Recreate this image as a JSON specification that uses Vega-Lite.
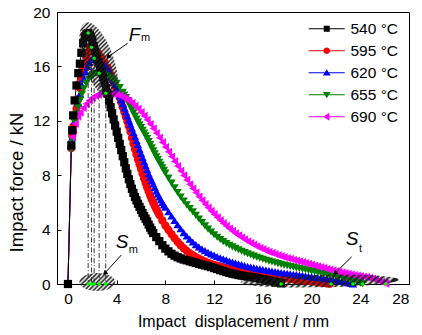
{
"$schema":"https://vega.github.io/schema/vega-lite/v6.json",
"width":352,"height":272,"autosize":"none",
"padding":{"left":57,"top":12,"right":13,"bottom":51},
"background":"white",
"config":{
 "font":"Liberation Sans",
 "view":{"stroke":"#000","strokeWidth":1},
 "axis":{"labelFont":"Liberation Sans","labelFontSize":15.5,"labelColor":"#000","titleFont":"Liberation Sans","titleFontSize":16,"titleFontWeight":"normal","titleColor":"#000","tickColor":"#000","domainColor":"#000","grid":false,"tickSize":-4,"labelPadding":11}
},
"datasets":{
"curves":[
{"t":595,"x":0,"y":0},{"t":595,"x":0.27,"y":10.0},{"t":595,"x":0.35,"y":10.9},{"t":595,"x":0.45,"y":11.6},{"t":595,"x":0.57,"y":12.2},{"t":595,"x":0.7,"y":12.9},{"t":595,"x":0.85,"y":13.6},{"t":595,"x":1.0,"y":14.4},{"t":595,"x":1.12,"y":15.1},{"t":595,"x":1.25,"y":15.7},{"t":595,"x":1.38,"y":16.2},{"t":595,"x":1.52,"y":16.7},{"t":595,"x":1.65,"y":17.05},{"t":595,"x":1.8,"y":17.3},{"t":595,"x":1.93,"y":17.4},{"t":595,"x":2.1,"y":17.35},{"t":595,"x":2.25,"y":17.2},{"t":595,"x":2.5,"y":16.95},{"t":595,"x":2.75,"y":16.65},{"t":595,"x":3.0,"y":16.3},{"t":595,"x":3.25,"y":15.9},{"t":595,"x":3.375,"y":15.65},{"t":595,"x":3.5,"y":15.4},{"t":595,"x":3.625,"y":15.12},{"t":595,"x":3.75,"y":14.85},{"t":595,"x":3.875,"y":14.58},{"t":595,"x":4.0,"y":14.3},{"t":595,"x":4.125,"y":14.0},{"t":595,"x":4.25,"y":13.7},{"t":595,"x":4.375,"y":13.35},{"t":595,"x":4.5,"y":13.0},{"t":595,"x":4.625,"y":12.65},{"t":595,"x":4.75,"y":12.3},{"t":595,"x":4.875,"y":11.95},{"t":595,"x":5.0,"y":11.6},{"t":595,"x":5.125,"y":11.2},{"t":595,"x":5.25,"y":10.75},{"t":595,"x":5.375,"y":10.33},{"t":595,"x":5.5,"y":9.9},{"t":595,"x":5.625,"y":9.52},{"t":595,"x":5.75,"y":9.15},{"t":595,"x":5.875,"y":8.8},{"t":595,"x":6.0,"y":8.45},{"t":595,"x":6.125,"y":8.1},{"t":595,"x":6.25,"y":7.75},{"t":595,"x":6.375,"y":7.42},{"t":595,"x":6.5,"y":7.1},{"t":595,"x":6.625,"y":6.8},{"t":595,"x":6.75,"y":6.5},{"t":595,"x":6.875,"y":6.23},{"t":595,"x":7.0,"y":5.97},{"t":595,"x":7.125,"y":5.73},{"t":595,"x":7.25,"y":5.5},{"t":595,"x":7.375,"y":5.28},{"t":595,"x":7.5,"y":5.07},{"t":595,"x":7.75,"y":4.67},{"t":595,"x":8.0,"y":4.3},{"t":595,"x":8.25,"y":3.98},{"t":595,"x":8.5,"y":3.67},{"t":595,"x":8.75,"y":3.37},{"t":595,"x":9.0,"y":3.1},{"t":595,"x":9.25,"y":2.85},{"t":595,"x":9.5,"y":2.63},{"t":595,"x":9.75,"y":2.44},{"t":595,"x":10.0,"y":2.27},{"t":595,"x":10.25,"y":2.12},{"t":595,"x":10.5,"y":1.98},{"t":595,"x":10.75,"y":1.86},{"t":595,"x":11.0,"y":1.75},{"t":595,"x":11.25,"y":1.65},{"t":595,"x":11.5,"y":1.56},{"t":595,"x":11.75,"y":1.48},{"t":595,"x":12.0,"y":1.41},{"t":595,"x":12.25,"y":1.34},{"t":595,"x":12.5,"y":1.28},{"t":595,"x":12.75,"y":1.22},{"t":595,"x":13.0,"y":1.17},{"t":595,"x":13.25,"y":1.12},{"t":595,"x":13.5,"y":1.07},{"t":595,"x":13.75,"y":1.03},{"t":595,"x":14.0,"y":0.99},{"t":595,"x":14.25,"y":0.95},{"t":595,"x":14.5,"y":0.91},{"t":595,"x":14.75,"y":0.88},{"t":595,"x":15.0,"y":0.84},{"t":595,"x":15.25,"y":0.81},{"t":595,"x":15.5,"y":0.78},{"t":595,"x":15.75,"y":0.75},{"t":595,"x":16.0,"y":0.72},{"t":595,"x":16.25,"y":0.68},{"t":595,"x":16.5,"y":0.64},{"t":595,"x":16.75,"y":0.6},{"t":595,"x":17.0,"y":0.56},{"t":595,"x":17.25,"y":0.52},{"t":595,"x":17.5,"y":0.48},{"t":595,"x":17.75,"y":0.44},{"t":595,"x":18.0,"y":0.41},{"t":595,"x":18.25,"y":0.38},{"t":595,"x":18.5,"y":0.35},{"t":595,"x":18.75,"y":0.32},{"t":595,"x":19.0,"y":0.29},{"t":595,"x":19.25,"y":0.27},{"t":595,"x":19.5,"y":0.25},{"t":595,"x":19.75,"y":0.23},{"t":595,"x":20.0,"y":0.2},{"t":595,"x":20.25,"y":0.17},{"t":595,"x":20.5,"y":0.14},{"t":595,"x":20.75,"y":0.11},{"t":595,"x":21.0,"y":0.08},{"t":595,"x":21.25,"y":0.05},{"t":595,"x":21.5,"y":0.02},
{"t":620,"x":0,"y":0},{"t":620,"x":0.27,"y":10.1},{"t":620,"x":0.35,"y":10.8},{"t":620,"x":0.45,"y":11.4},{"t":620,"x":0.57,"y":12.0},{"t":620,"x":0.7,"y":12.6},{"t":620,"x":0.85,"y":13.3},{"t":620,"x":1.0,"y":14.0},{"t":620,"x":1.15,"y":14.6},{"t":620,"x":1.3,"y":15.1},{"t":620,"x":1.45,"y":15.6},{"t":620,"x":1.6,"y":16.0},{"t":620,"x":1.75,"y":16.3},{"t":620,"x":1.9,"y":16.5},{"t":620,"x":2.05,"y":16.58},{"t":620,"x":2.15,"y":16.6},{"t":620,"x":2.25,"y":16.57},{"t":620,"x":2.5,"y":16.45},{"t":620,"x":2.75,"y":16.3},{"t":620,"x":3.0,"y":16.1},{"t":620,"x":3.25,"y":15.85},{"t":620,"x":3.375,"y":15.67},{"t":620,"x":3.5,"y":15.45},{"t":620,"x":3.625,"y":15.2},{"t":620,"x":3.75,"y":14.95},{"t":620,"x":3.875,"y":14.68},{"t":620,"x":4.0,"y":14.4},{"t":620,"x":4.125,"y":14.12},{"t":620,"x":4.25,"y":13.85},{"t":620,"x":4.375,"y":13.55},{"t":620,"x":4.5,"y":13.25},{"t":620,"x":4.625,"y":12.95},{"t":620,"x":4.75,"y":12.65},{"t":620,"x":4.875,"y":12.35},{"t":620,"x":5.0,"y":12.05},{"t":620,"x":5.125,"y":11.75},{"t":620,"x":5.25,"y":11.45},{"t":620,"x":5.375,"y":11.15},{"t":620,"x":5.5,"y":10.85},{"t":620,"x":5.625,"y":10.55},{"t":620,"x":5.75,"y":10.25},{"t":620,"x":5.875,"y":9.92},{"t":620,"x":6.0,"y":9.6},{"t":620,"x":6.125,"y":9.3},{"t":620,"x":6.25,"y":9.0},{"t":620,"x":6.375,"y":8.7},{"t":620,"x":6.5,"y":8.4},{"t":620,"x":6.625,"y":8.12},{"t":620,"x":6.75,"y":7.85},{"t":620,"x":6.875,"y":7.6},{"t":620,"x":7.0,"y":7.35},{"t":620,"x":7.125,"y":7.1},{"t":620,"x":7.25,"y":6.85},{"t":620,"x":7.375,"y":6.62},{"t":620,"x":7.5,"y":6.4},{"t":620,"x":7.625,"y":6.2},{"t":620,"x":7.75,"y":6.0},{"t":620,"x":7.875,"y":5.82},{"t":620,"x":8.0,"y":5.65},{"t":620,"x":8.25,"y":5.32},{"t":620,"x":8.5,"y":5.0},{"t":620,"x":8.75,"y":4.67},{"t":620,"x":9.0,"y":4.36},{"t":620,"x":9.25,"y":4.06},{"t":620,"x":9.5,"y":3.78},{"t":620,"x":9.75,"y":3.53},{"t":620,"x":10.0,"y":3.3},{"t":620,"x":10.25,"y":3.09},{"t":620,"x":10.5,"y":2.9},{"t":620,"x":10.75,"y":2.73},{"t":620,"x":11.0,"y":2.58},{"t":620,"x":11.25,"y":2.45},{"t":620,"x":11.5,"y":2.33},{"t":620,"x":11.75,"y":2.22},{"t":620,"x":12.0,"y":2.12},{"t":620,"x":12.25,"y":2.02},{"t":620,"x":12.5,"y":1.93},{"t":620,"x":12.75,"y":1.85},{"t":620,"x":13.0,"y":1.77},{"t":620,"x":13.25,"y":1.69},{"t":620,"x":13.5,"y":1.62},{"t":620,"x":13.75,"y":1.55},{"t":620,"x":14.0,"y":1.48},{"t":620,"x":14.25,"y":1.42},{"t":620,"x":14.5,"y":1.36},{"t":620,"x":14.75,"y":1.3},{"t":620,"x":15.0,"y":1.25},{"t":620,"x":15.25,"y":1.2},{"t":620,"x":15.5,"y":1.15},{"t":620,"x":15.75,"y":1.11},{"t":620,"x":16.0,"y":1.07},{"t":620,"x":16.25,"y":1.03},{"t":620,"x":16.5,"y":0.99},{"t":620,"x":16.75,"y":0.95},{"t":620,"x":17.0,"y":0.91},{"t":620,"x":17.25,"y":0.87},{"t":620,"x":17.5,"y":0.84},{"t":620,"x":17.75,"y":0.81},{"t":620,"x":18.0,"y":0.78},{"t":620,"x":18.25,"y":0.75},{"t":620,"x":18.5,"y":0.72},{"t":620,"x":18.75,"y":0.69},{"t":620,"x":19.0,"y":0.66},{"t":620,"x":19.25,"y":0.63},{"t":620,"x":19.5,"y":0.6},{"t":620,"x":19.75,"y":0.57},{"t":620,"x":20.0,"y":0.54},{"t":620,"x":20.25,"y":0.51},{"t":620,"x":20.5,"y":0.48},{"t":620,"x":20.75,"y":0.45},{"t":620,"x":21.0,"y":0.42},{"t":620,"x":21.25,"y":0.39},{"t":620,"x":21.5,"y":0.36},{"t":620,"x":21.75,"y":0.33},{"t":620,"x":22.0,"y":0.29},{"t":620,"x":22.25,"y":0.25},{"t":620,"x":22.5,"y":0.2},{"t":620,"x":22.75,"y":0.15},{"t":620,"x":23.0,"y":0.1},{"t":620,"x":23.25,"y":0.05},{"t":620,"x":23.4,"y":0.01},
{"t":655,"x":0,"y":0},{"t":655,"x":0.27,"y":9.9},{"t":655,"x":0.35,"y":10.6},{"t":655,"x":0.43,"y":11.3},{"t":655,"x":0.55,"y":11.9},{"t":655,"x":0.7,"y":12.5},{"t":655,"x":0.84,"y":13.0},{"t":655,"x":1.0,"y":13.5},{"t":655,"x":1.15,"y":13.95},{"t":655,"x":1.3,"y":14.35},{"t":655,"x":1.5,"y":14.75},{"t":655,"x":1.7,"y":15.05},{"t":655,"x":1.9,"y":15.25},{"t":655,"x":2.1,"y":15.4},{"t":655,"x":2.3,"y":15.48},{"t":655,"x":2.56,"y":15.5},{"t":655,"x":2.75,"y":15.48},{"t":655,"x":3.0,"y":15.42},{"t":655,"x":3.25,"y":15.32},{"t":655,"x":3.5,"y":15.18},{"t":655,"x":3.75,"y":15.0},{"t":655,"x":4.0,"y":14.75},{"t":655,"x":4.25,"y":14.45},{"t":655,"x":4.5,"y":14.1},{"t":655,"x":4.625,"y":13.9},{"t":655,"x":4.75,"y":13.7},{"t":655,"x":4.875,"y":13.48},{"t":655,"x":5.0,"y":13.25},{"t":655,"x":5.125,"y":13.03},{"t":655,"x":5.25,"y":12.8},{"t":655,"x":5.375,"y":12.58},{"t":655,"x":5.5,"y":12.35},{"t":655,"x":5.625,"y":12.12},{"t":655,"x":5.75,"y":11.9},{"t":655,"x":5.875,"y":11.7},{"t":655,"x":6.0,"y":11.5},{"t":655,"x":6.125,"y":11.3},{"t":655,"x":6.25,"y":11.1},{"t":655,"x":6.375,"y":10.9},{"t":655,"x":6.5,"y":10.7},{"t":655,"x":6.625,"y":10.48},{"t":655,"x":6.75,"y":10.25},{"t":655,"x":6.875,"y":10.02},{"t":655,"x":7.0,"y":9.8},{"t":655,"x":7.125,"y":9.57},{"t":655,"x":7.25,"y":9.35},{"t":655,"x":7.375,"y":9.15},{"t":655,"x":7.5,"y":8.95},{"t":655,"x":7.625,"y":8.75},{"t":655,"x":7.75,"y":8.55},{"t":655,"x":7.875,"y":8.35},{"t":655,"x":8.0,"y":8.15},{"t":655,"x":8.25,"y":7.78},{"t":655,"x":8.5,"y":7.42},{"t":655,"x":8.75,"y":7.07},{"t":655,"x":9.0,"y":6.73},{"t":655,"x":9.25,"y":6.4},{"t":655,"x":9.5,"y":6.1},{"t":655,"x":9.75,"y":5.82},{"t":655,"x":10.0,"y":5.55},{"t":655,"x":10.25,"y":5.3},{"t":655,"x":10.5,"y":5.05},{"t":655,"x":10.75,"y":4.78},{"t":655,"x":11.0,"y":4.52},{"t":655,"x":11.25,"y":4.27},{"t":655,"x":11.5,"y":4.03},{"t":655,"x":11.75,"y":3.82},{"t":655,"x":12.0,"y":3.62},{"t":655,"x":12.25,"y":3.44},{"t":655,"x":12.5,"y":3.27},{"t":655,"x":12.75,"y":3.12},{"t":655,"x":13.0,"y":2.98},{"t":655,"x":13.25,"y":2.85},{"t":655,"x":13.5,"y":2.73},{"t":655,"x":13.75,"y":2.62},{"t":655,"x":14.0,"y":2.51},{"t":655,"x":14.25,"y":2.41},{"t":655,"x":14.5,"y":2.31},{"t":655,"x":14.75,"y":2.22},{"t":655,"x":15.0,"y":2.13},{"t":655,"x":15.25,"y":2.05},{"t":655,"x":15.5,"y":1.97},{"t":655,"x":15.75,"y":1.89},{"t":655,"x":16.0,"y":1.82},{"t":655,"x":16.25,"y":1.75},{"t":655,"x":16.5,"y":1.68},{"t":655,"x":16.75,"y":1.62},{"t":655,"x":17.0,"y":1.56},{"t":655,"x":17.25,"y":1.5},{"t":655,"x":17.5,"y":1.44},{"t":655,"x":17.75,"y":1.39},{"t":655,"x":18.0,"y":1.34},{"t":655,"x":18.25,"y":1.29},{"t":655,"x":18.5,"y":1.24},{"t":655,"x":18.75,"y":1.19},{"t":655,"x":19.0,"y":1.14},{"t":655,"x":19.25,"y":1.09},{"t":655,"x":19.5,"y":1.05},{"t":655,"x":19.75,"y":1.0},{"t":655,"x":20.0,"y":0.95},{"t":655,"x":20.25,"y":0.91},{"t":655,"x":20.5,"y":0.86},{"t":655,"x":20.75,"y":0.82},{"t":655,"x":21.0,"y":0.77},{"t":655,"x":21.25,"y":0.72},{"t":655,"x":21.5,"y":0.68},{"t":655,"x":21.75,"y":0.63},{"t":655,"x":22.0,"y":0.58},{"t":655,"x":22.25,"y":0.53},{"t":655,"x":22.5,"y":0.48},{"t":655,"x":22.75,"y":0.42},{"t":655,"x":23.0,"y":0.36},{"t":655,"x":23.25,"y":0.3},{"t":655,"x":23.5,"y":0.23},{"t":655,"x":23.75,"y":0.16},{"t":655,"x":24.0,"y":0.08},{"t":655,"x":24.2,"y":0.02},
{"t":690,"x":0,"y":0},{"t":690,"x":0.27,"y":10.2},{"t":690,"x":0.35,"y":10.8},{"t":690,"x":0.45,"y":11.3},{"t":690,"x":0.6,"y":11.8},{"t":690,"x":0.8,"y":12.3},{"t":690,"x":1.0,"y":12.6},{"t":690,"x":1.25,"y":12.95},{"t":690,"x":1.5,"y":13.25},{"t":690,"x":1.75,"y":13.5},{"t":690,"x":2.0,"y":13.7},{"t":690,"x":2.25,"y":13.83},{"t":690,"x":2.5,"y":13.92},{"t":690,"x":2.75,"y":13.98},{"t":690,"x":3.1,"y":14.02},{"t":690,"x":3.25,"y":14.02},{"t":690,"x":3.5,"y":14.0},{"t":690,"x":3.75,"y":13.97},{"t":690,"x":4.0,"y":13.92},{"t":690,"x":4.25,"y":13.85},{"t":690,"x":4.5,"y":13.75},{"t":690,"x":4.75,"y":13.62},{"t":690,"x":5.0,"y":13.47},{"t":690,"x":5.25,"y":13.3},{"t":690,"x":5.5,"y":13.1},{"t":690,"x":5.75,"y":12.88},{"t":690,"x":6.0,"y":12.63},{"t":690,"x":6.25,"y":12.36},{"t":690,"x":6.5,"y":12.07},{"t":690,"x":6.75,"y":11.76},{"t":690,"x":7.0,"y":11.44},{"t":690,"x":7.25,"y":11.1},{"t":690,"x":7.5,"y":10.76},{"t":690,"x":7.75,"y":10.42},{"t":690,"x":8.0,"y":10.07},{"t":690,"x":8.25,"y":9.72},{"t":690,"x":8.5,"y":9.37},{"t":690,"x":8.75,"y":9.02},{"t":690,"x":9.0,"y":8.67},{"t":690,"x":9.25,"y":8.32},{"t":690,"x":9.5,"y":7.98},{"t":690,"x":9.75,"y":7.65},{"t":690,"x":10.0,"y":7.33},{"t":690,"x":10.25,"y":7.02},{"t":690,"x":10.5,"y":6.72},{"t":690,"x":10.75,"y":6.43},{"t":690,"x":11.0,"y":6.15},{"t":690,"x":11.25,"y":5.88},{"t":690,"x":11.5,"y":5.62},{"t":690,"x":11.75,"y":5.37},{"t":690,"x":12.0,"y":5.13},{"t":690,"x":12.25,"y":4.9},{"t":690,"x":12.5,"y":4.68},{"t":690,"x":12.75,"y":4.47},{"t":690,"x":13.0,"y":4.27},{"t":690,"x":13.25,"y":4.08},{"t":690,"x":13.5,"y":3.9},{"t":690,"x":13.75,"y":3.73},{"t":690,"x":14.0,"y":3.57},{"t":690,"x":14.25,"y":3.42},{"t":690,"x":14.5,"y":3.28},{"t":690,"x":14.75,"y":3.14},{"t":690,"x":15.0,"y":3.01},{"t":690,"x":15.25,"y":2.89},{"t":690,"x":15.5,"y":2.77},{"t":690,"x":15.75,"y":2.66},{"t":690,"x":16.0,"y":2.56},{"t":690,"x":16.25,"y":2.46},{"t":690,"x":16.5,"y":2.37},{"t":690,"x":16.75,"y":2.28},{"t":690,"x":17.0,"y":2.2},{"t":690,"x":17.25,"y":2.12},{"t":690,"x":17.5,"y":2.05},{"t":690,"x":17.75,"y":1.98},{"t":690,"x":18.0,"y":1.91},{"t":690,"x":18.25,"y":1.85},{"t":690,"x":18.5,"y":1.78},{"t":690,"x":18.75,"y":1.72},{"t":690,"x":19.0,"y":1.66},{"t":690,"x":19.25,"y":1.6},{"t":690,"x":19.5,"y":1.54},{"t":690,"x":19.75,"y":1.48},{"t":690,"x":20.0,"y":1.42},{"t":690,"x":20.25,"y":1.36},{"t":690,"x":20.5,"y":1.3},{"t":690,"x":20.75,"y":1.24},{"t":690,"x":21.0,"y":1.18},{"t":690,"x":21.25,"y":1.12},{"t":690,"x":21.5,"y":1.06},{"t":690,"x":21.75,"y":1.0},{"t":690,"x":22.0,"y":0.95},{"t":690,"x":22.25,"y":0.9},{"t":690,"x":22.5,"y":0.85},{"t":690,"x":22.75,"y":0.8},{"t":690,"x":23.0,"y":0.75},{"t":690,"x":23.25,"y":0.7},{"t":690,"x":23.5,"y":0.66},{"t":690,"x":23.75,"y":0.62},{"t":690,"x":24.0,"y":0.58},{"t":690,"x":24.25,"y":0.54},{"t":690,"x":24.5,"y":0.5},{"t":690,"x":24.75,"y":0.45},{"t":690,"x":25.0,"y":0.39},{"t":690,"x":25.25,"y":0.32},{"t":690,"x":25.5,"y":0.24},{"t":690,"x":25.75,"y":0.15},{"t":690,"x":26.0,"y":0.06},{"t":690,"x":26.1,"y":0.02},
{"t":540,"x":0,"y":0},{"t":540,"x":0.28,"y":10.2},{"t":540,"x":0.35,"y":11.3},{"t":540,"x":0.43,"y":12.4},{"t":540,"x":0.55,"y":13.5},{"t":540,"x":0.7,"y":14.6},{"t":540,"x":0.85,"y":15.5},{"t":540,"x":0.98,"y":16.2},{"t":540,"x":1.1,"y":17.0},{"t":540,"x":1.25,"y":17.7},{"t":540,"x":1.39,"y":18.2},{"t":540,"x":1.52,"y":18.4},{"t":540,"x":1.66,"y":18.45},{"t":540,"x":1.8,"y":18.3},{"t":540,"x":1.9,"y":18.15},{"t":540,"x":2.0,"y":17.9},{"t":540,"x":2.125,"y":17.5},{"t":540,"x":2.25,"y":17.1},{"t":540,"x":2.375,"y":16.7},{"t":540,"x":2.5,"y":16.3},{"t":540,"x":2.625,"y":15.95},{"t":540,"x":2.75,"y":15.6},{"t":540,"x":2.875,"y":15.2},{"t":540,"x":3.0,"y":14.8},{"t":540,"x":3.125,"y":14.4},{"t":540,"x":3.25,"y":14.0},{"t":540,"x":3.375,"y":13.5},{"t":540,"x":3.5,"y":13.0},{"t":540,"x":3.625,"y":12.55},{"t":540,"x":3.75,"y":12.1},{"t":540,"x":3.875,"y":11.65},{"t":540,"x":4.0,"y":11.2},{"t":540,"x":4.125,"y":10.75},{"t":540,"x":4.25,"y":10.3},{"t":540,"x":4.375,"y":9.85},{"t":540,"x":4.5,"y":9.4},{"t":540,"x":4.625,"y":8.95},{"t":540,"x":4.75,"y":8.5},{"t":540,"x":4.875,"y":8.1},{"t":540,"x":5.0,"y":7.7},{"t":540,"x":5.125,"y":7.35},{"t":540,"x":5.25,"y":7.0},{"t":540,"x":5.375,"y":6.7},{"t":540,"x":5.5,"y":6.4},{"t":540,"x":5.625,"y":6.15},{"t":540,"x":5.75,"y":5.9},{"t":540,"x":5.875,"y":5.67},{"t":540,"x":6.0,"y":5.45},{"t":540,"x":6.125,"y":5.22},{"t":540,"x":6.25,"y":5.0},{"t":540,"x":6.375,"y":4.8},{"t":540,"x":6.5,"y":4.6},{"t":540,"x":6.625,"y":4.37},{"t":540,"x":6.75,"y":4.15},{"t":540,"x":6.875,"y":3.95},{"t":540,"x":7.0,"y":3.75},{"t":540,"x":7.25,"y":3.45},{"t":540,"x":7.5,"y":3.15},{"t":540,"x":7.75,"y":2.85},{"t":540,"x":8.0,"y":2.6},{"t":540,"x":8.25,"y":2.4},{"t":540,"x":8.5,"y":2.22},{"t":540,"x":8.75,"y":2.08},{"t":540,"x":9.0,"y":1.97},{"t":540,"x":9.25,"y":1.88},{"t":540,"x":9.5,"y":1.8},{"t":540,"x":9.75,"y":1.74},{"t":540,"x":10.0,"y":1.67},{"t":540,"x":10.25,"y":1.61},{"t":540,"x":10.5,"y":1.55},{"t":540,"x":10.75,"y":1.48},{"t":540,"x":11.0,"y":1.42},{"t":540,"x":11.25,"y":1.37},{"t":540,"x":11.5,"y":1.31},{"t":540,"x":11.75,"y":1.24},{"t":540,"x":12.0,"y":1.17},{"t":540,"x":12.25,"y":1.1},{"t":540,"x":12.5,"y":1.02},{"t":540,"x":12.75,"y":0.95},{"t":540,"x":13.0,"y":0.88},{"t":540,"x":13.25,"y":0.82},{"t":540,"x":13.5,"y":0.76},{"t":540,"x":13.75,"y":0.71},{"t":540,"x":14.0,"y":0.66},{"t":540,"x":14.25,"y":0.62},{"t":540,"x":14.5,"y":0.58},{"t":540,"x":14.75,"y":0.55},{"t":540,"x":15.0,"y":0.52},{"t":540,"x":15.25,"y":0.48},{"t":540,"x":15.5,"y":0.44},{"t":540,"x":15.75,"y":0.39},{"t":540,"x":16.0,"y":0.34},{"t":540,"x":16.25,"y":0.3},{"t":540,"x":16.5,"y":0.25},{"t":540,"x":16.75,"y":0.2},{"t":540,"x":17.0,"y":0.15},{"t":540,"x":17.25,"y":0.1},{"t":540,"x":17.5,"y":0.05}
],
"peaks":[{"x":1.66,"y":18.45},{"x":1.93,"y":17.4},{"x":2.15,"y":16.6},{"x":2.56,"y":15.5},{"x":3.1,"y":14.02}],
"dots":[{"x":1.66,"y":18.45},{"x":1.93,"y":17.4},{"x":2.15,"y":16.6},{"x":2.56,"y":15.5},{"x":3.1,"y":14.02},{"x":1.66,"y":0},{"x":1.93,"y":0},{"x":2.15,"y":0},{"x":2.56,"y":0},{"x":3.1,"y":0},{"x":17.5,"y":0},{"x":21.6,"y":0},{"x":23.4,"y":0},{"x":24.2,"y":0},{"x":26.1,"y":0}],
"zones":[{"k":"F","x":2.53,"y":16.4},{"k":"Sm","x":2.41,"y":0.15},{"k":"St","x":20.65,"y":0.22}],
"arrows":[{"x":4.9,"y":17.7,"x2":3.29,"y2":16.7},{"x":4.38,"y":2.13,"x2":3.02,"y2":0.79},{"x":23.29,"y":2.0,"x2":21.93,"y2":0.79}],
"letters":[{"x":5.0,"y":17.87,"text":"F"},{"x":3.92,"y":2.62,"text":"S"},{"x":22.8,"y":2.87,"text":"S"}],
"subs":[{"x":6.0,"y":17.9,"text":"m"},{"x":5.0,"y":2.3,"text":"m"},{"x":23.9,"y":2.33,"text":"t"}]
},
"layer":[
{"data":{"name":"curves"},"mark":{"type":"line","strokeWidth":1},
 "encoding":{
  "x":{"field":"x","type":"quantitative","scale":{"domain":[-0.9,28],"nice":false,"zero":false},
       "axis":{"values":[0,4,8,12,16,20,24,28],"title":"Impact\u00a0 displacement / mm","titleY":29,"titleBaseline":"top"}},
  "y":{"field":"y","type":"quantitative","scale":{"domain":[0,20],"nice":false},
       "axis":{"values":[0,4,8,12,16,20],"title":"Impact force / kN","titleFontSize":18.5,"titleX":-31,"titleY":170,"titleAngle":-90,"titleBaseline":"bottom"}},
  "color":{"field":"t","type":"nominal","scale":{"domain":[540,595,620,655,690],"range":["#000000","#ff0000","#0000ff","#008000","#ff00ff"]},
    "legend":{"orient":"none","legendX":262,"legendY":9,"title":null,"labelFont":"Liberation Sans","labelFontSize":15.5,"labelColor":"#000","symbolSize":144,"symbolStrokeWidth":0,"labelOffset":16,"rowPadding":5,"padding":0,"labelExpr":"datum.label + ' °C'",
      "encode":{"symbols":{"update":{
        "shape":{"signal":"datum.value==540?'M-3,-0.083H3V0.083H-3ZM-0.5,-0.5H0.5V0.5H-0.5Z':datum.value==595?'M-3,-0.083H3V0.083H-3ZM0.55,0A0.55,0.55,0,1,1,-0.55,0A0.55,0.55,0,1,1,0.55,0Z':datum.value==620?'M-3,-0.083H3V0.083H-3ZM0,-0.6L0.65,0.45L-0.65,0.45Z':datum.value==655?'M-3,-0.083H3V0.083H-3ZM0,0.6L-0.65,-0.45L0.65,-0.45Z':'M-3,-0.083H3V0.083H-3ZM-0.6,0L0.45,-0.65L0.45,0.65Z'"},
        "fill":{"signal":"scale('color', datum.value)"},
        "fillOpacity":{"value":1},
        "strokeWidth":{"value":0},"opacity":{"value":1}}}}}}
 }},
{"data":{"name":"curves"},"mark":{"type":"point","filled":true,"opacity":1,"strokeWidth":0},
 "encoding":{
  "x":{"field":"x","type":"quantitative"},
  "y":{"field":"y","type":"quantitative"},
  "color":{"field":"t","type":"nominal"},
  "shape":{"field":"t","type":"nominal","scale":{"domain":[690,655,620,595,540],"range":["triangle-left","triangle-down","triangle-up","circle","square"]},"legend":null},
  "size":{"field":"t","type":"nominal","scale":{"domain":[690,655,620,595,540],"range":[68,68,68,50,48]},"legend":null}
 }},
{"data":{"name":"peaks"},"mark":{"type":"rule","color":"#000","strokeWidth":0.8,"strokeDash":[5,2,1,2]},
 "encoding":{"x":{"field":"x","type":"quantitative"},"y":{"field":"y","type":"quantitative"},"y2":{"datum":0}}},
{"data":{"name":"zones"},"transform":[{"filter":"datum.k=='F'"}],
 "mark":{"type":"point","filled":true,"opacity":1,"strokeWidth":0,"size":6561,"angle":71,"shape":"M-1,0A1,0.37,0,1,1,1,0A1,0.37,0,1,1,-1,0Z",
  "fill":{"gradient":"linear","x1":0,"y1":0.59,"x2":1,"y2":0.41,"stops":[{"offset":0,"color":"#1e1e1e"},{"offset":0.02,"color":"rgba(30,30,30,0)"},{"offset":0.04,"color":"#1e1e1e"},{"offset":0.06,"color":"rgba(30,30,30,0)"},{"offset":0.08,"color":"#1e1e1e"},{"offset":0.1,"color":"rgba(30,30,30,0)"},{"offset":0.12,"color":"#1e1e1e"},{"offset":0.14,"color":"rgba(30,30,30,0)"},{"offset":0.16,"color":"#1e1e1e"},{"offset":0.18,"color":"rgba(30,30,30,0)"},{"offset":0.2,"color":"#1e1e1e"},{"offset":0.22,"color":"rgba(30,30,30,0)"},{"offset":0.24,"color":"#1e1e1e"},{"offset":0.26,"color":"rgba(30,30,30,0)"},{"offset":0.28,"color":"#1e1e1e"},{"offset":0.3,"color":"rgba(30,30,30,0)"},{"offset":0.32,"color":"#1e1e1e"},{"offset":0.34,"color":"rgba(30,30,30,0)"},{"offset":0.36,"color":"#1e1e1e"},{"offset":0.38,"color":"rgba(30,30,30,0)"},{"offset":0.4,"color":"#1e1e1e"},{"offset":0.42,"color":"rgba(30,30,30,0)"},{"offset":0.44,"color":"#1e1e1e"},{"offset":0.46,"color":"rgba(30,30,30,0)"},{"offset":0.48,"color":"#1e1e1e"},{"offset":0.5,"color":"rgba(30,30,30,0)"},{"offset":0.52,"color":"#1e1e1e"},{"offset":0.54,"color":"rgba(30,30,30,0)"},{"offset":0.56,"color":"#1e1e1e"},{"offset":0.58,"color":"rgba(30,30,30,0)"},{"offset":0.6,"color":"#1e1e1e"},{"offset":0.62,"color":"rgba(30,30,30,0)"},{"offset":0.64,"color":"#1e1e1e"},{"offset":0.66,"color":"rgba(30,30,30,0)"},{"offset":0.68,"color":"#1e1e1e"},{"offset":0.7,"color":"rgba(30,30,30,0)"},{"offset":0.72,"color":"#1e1e1e"},{"offset":0.74,"color":"rgba(30,30,30,0)"},{"offset":0.76,"color":"#1e1e1e"},{"offset":0.78,"color":"rgba(30,30,30,0)"},{"offset":0.8,"color":"#1e1e1e"},{"offset":0.82,"color":"rgba(30,30,30,0)"},{"offset":0.84,"color":"#1e1e1e"},{"offset":0.86,"color":"rgba(30,30,30,0)"},{"offset":0.88,"color":"#1e1e1e"},{"offset":0.9,"color":"rgba(30,30,30,0)"},{"offset":0.92,"color":"#1e1e1e"},{"offset":0.94,"color":"rgba(30,30,30,0)"},{"offset":0.96,"color":"#1e1e1e"},{"offset":0.98,"color":"rgba(30,30,30,0)"},{"offset":1,"color":"#1e1e1e"}]}},
 "encoding":{"x":{"field":"x","type":"quantitative"},"y":{"field":"y","type":"quantitative"}}},
{"data":{"name":"zones"},"transform":[{"filter":"datum.k=='Sm'"}],
 "mark":{"type":"point","filled":true,"opacity":1,"strokeWidth":0,"size":1296,"shape":"M-1,0A1,0.5,0,1,1,1,0A1,0.5,0,1,1,-1,0Z",
  "fill":{"gradient":"linear","x1":0,"y1":0.25,"x2":1,"y2":0.75,"stops":[{"offset":0,"color":"#1e1e1e"},{"offset":0.05,"color":"rgba(30,30,30,0)"},{"offset":0.1,"color":"#1e1e1e"},{"offset":0.15,"color":"rgba(30,30,30,0)"},{"offset":0.2,"color":"#1e1e1e"},{"offset":0.25,"color":"rgba(30,30,30,0)"},{"offset":0.3,"color":"#1e1e1e"},{"offset":0.35,"color":"rgba(30,30,30,0)"},{"offset":0.4,"color":"#1e1e1e"},{"offset":0.45,"color":"rgba(30,30,30,0)"},{"offset":0.5,"color":"#1e1e1e"},{"offset":0.55,"color":"rgba(30,30,30,0)"},{"offset":0.6,"color":"#1e1e1e"},{"offset":0.65,"color":"rgba(30,30,30,0)"},{"offset":0.7,"color":"#1e1e1e"},{"offset":0.75,"color":"rgba(30,30,30,0)"},{"offset":0.8,"color":"#1e1e1e"},{"offset":0.85,"color":"rgba(30,30,30,0)"},{"offset":0.9,"color":"#1e1e1e"},{"offset":0.95,"color":"rgba(30,30,30,0)"},{"offset":1,"color":"#1e1e1e"}]}},
 "encoding":{"x":{"field":"x","type":"quantitative"},"y":{"field":"y","type":"quantitative"}}},
{"data":{"name":"zones"},"transform":[{"filter":"datum.k=='St'"}],
 "mark":{"type":"point","filled":true,"opacity":1,"strokeWidth":0,"size":24964,"angle":-1,"shape":"M-1,0A1,0.08,0,1,1,1,0A1,0.08,0,1,1,-1,0Z",
  "fill":{"gradient":"linear","x1":0,"y1":0,"x2":1,"y2":0.09,"stops":[{"offset":0,"color":"#1e1e1e"},{"offset":0.02,"color":"rgba(30,30,30,0)"},{"offset":0.04,"color":"#1e1e1e"},{"offset":0.06,"color":"rgba(30,30,30,0)"},{"offset":0.08,"color":"#1e1e1e"},{"offset":0.1,"color":"rgba(30,30,30,0)"},{"offset":0.12,"color":"#1e1e1e"},{"offset":0.14,"color":"rgba(30,30,30,0)"},{"offset":0.16,"color":"#1e1e1e"},{"offset":0.18,"color":"rgba(30,30,30,0)"},{"offset":0.2,"color":"#1e1e1e"},{"offset":0.22,"color":"rgba(30,30,30,0)"},{"offset":0.24,"color":"#1e1e1e"},{"offset":0.26,"color":"rgba(30,30,30,0)"},{"offset":0.28,"color":"#1e1e1e"},{"offset":0.3,"color":"rgba(30,30,30,0)"},{"offset":0.32,"color":"#1e1e1e"},{"offset":0.34,"color":"rgba(30,30,30,0)"},{"offset":0.36,"color":"#1e1e1e"},{"offset":0.38,"color":"rgba(30,30,30,0)"},{"offset":0.4,"color":"#1e1e1e"},{"offset":0.42,"color":"rgba(30,30,30,0)"},{"offset":0.44,"color":"#1e1e1e"},{"offset":0.46,"color":"rgba(30,30,30,0)"},{"offset":0.48,"color":"#1e1e1e"},{"offset":0.5,"color":"rgba(30,30,30,0)"},{"offset":0.52,"color":"#1e1e1e"},{"offset":0.54,"color":"rgba(30,30,30,0)"},{"offset":0.56,"color":"#1e1e1e"},{"offset":0.58,"color":"rgba(30,30,30,0)"},{"offset":0.6,"color":"#1e1e1e"},{"offset":0.62,"color":"rgba(30,30,30,0)"},{"offset":0.64,"color":"#1e1e1e"},{"offset":0.66,"color":"rgba(30,30,30,0)"},{"offset":0.68,"color":"#1e1e1e"},{"offset":0.7,"color":"rgba(30,30,30,0)"},{"offset":0.72,"color":"#1e1e1e"},{"offset":0.74,"color":"rgba(30,30,30,0)"},{"offset":0.76,"color":"#1e1e1e"},{"offset":0.78,"color":"rgba(30,30,30,0)"},{"offset":0.8,"color":"#1e1e1e"},{"offset":0.82,"color":"rgba(30,30,30,0)"},{"offset":0.84,"color":"#1e1e1e"},{"offset":0.86,"color":"rgba(30,30,30,0)"},{"offset":0.88,"color":"#1e1e1e"},{"offset":0.9,"color":"rgba(30,30,30,0)"},{"offset":0.92,"color":"#1e1e1e"},{"offset":0.94,"color":"rgba(30,30,30,0)"},{"offset":0.96,"color":"#1e1e1e"},{"offset":0.98,"color":"rgba(30,30,30,0)"},{"offset":1,"color":"#1e1e1e"}]}},
 "encoding":{"x":{"field":"x","type":"quantitative"},"y":{"field":"y","type":"quantitative"}}},
{"data":{"name":"arrows"},"mark":{"type":"rule","color":"#000","strokeWidth":1},
 "encoding":{"x":{"field":"x","type":"quantitative"},"y":{"field":"y","type":"quantitative"},"x2":{"field":"x2"},"y2":{"field":"y2"}}},
{"data":{"name":"arrows"},"mark":{"type":"point","shape":"triangle-right","filled":true,"color":"#000","opacity":1,"size":30,"angle":138},
 "encoding":{"x":{"field":"x2","type":"quantitative"},"y":{"field":"y2","type":"quantitative"}}},
{"data":{"name":"dots"},"mark":{"type":"point","filled":true,"color":"#00ff00","opacity":1,"size":12},
 "encoding":{"x":{"field":"x","type":"quantitative"},"y":{"field":"y","type":"quantitative"}}},
{"data":{"name":"letters"},"mark":{"type":"text","font":"Liberation Sans","fontStyle":"italic","fontSize":19,"align":"left","baseline":"alphabetic","color":"#000"},
 "encoding":{"x":{"field":"x","type":"quantitative"},"y":{"field":"y","type":"quantitative"},"text":{"field":"text"}}},
{"data":{"name":"subs"},"mark":{"type":"text","font":"Liberation Sans","fontSize":11,"align":"left","baseline":"alphabetic","color":"#000"},
 "encoding":{"x":{"field":"x","type":"quantitative"},"y":{"field":"y","type":"quantitative"},"text":{"field":"text"}}}
]
}
